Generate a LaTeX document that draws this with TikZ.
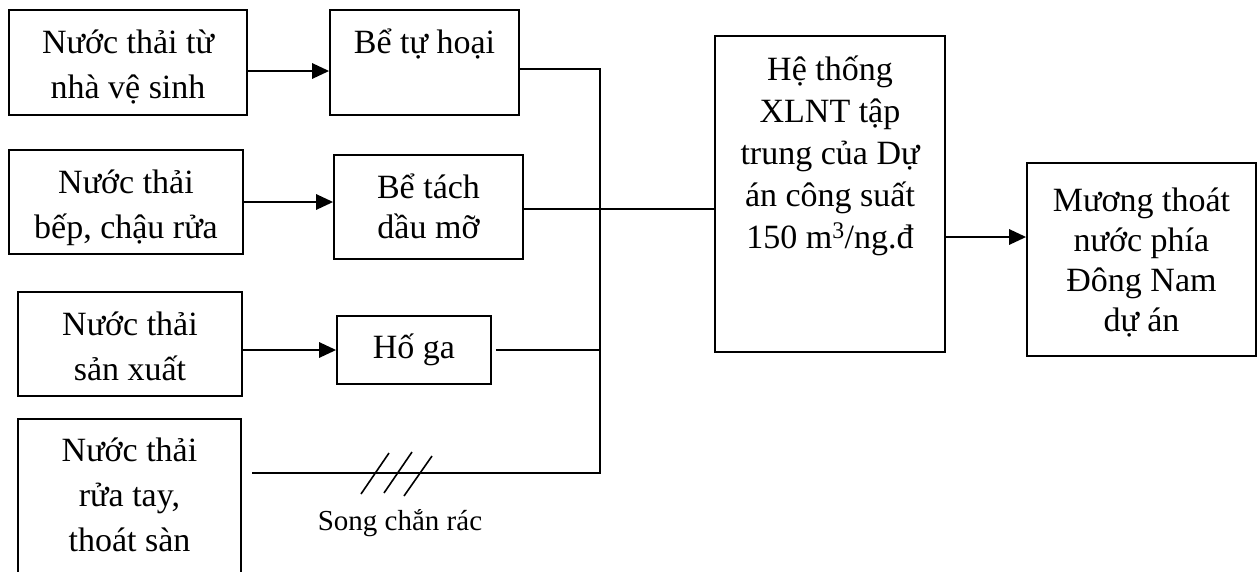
\documentclass[tikz,border=0pt]{standalone}
\usepackage{fontspec}
\setmainfont{Liberation Serif}
\usetikzlibrary{arrows.meta}
\newcommand\mlines[2]{\vtop{\baselineskip=#1\lineskiplimit=-1000pt\lineskip=0pt\halign{\hfil##\hfil\cr#2\crcr}}}
\tikzset{
  box/.style={draw, line width=1.6pt, inner sep=0pt, rectangle},
  txt/.style={font=\fontsize{34}{45}\selectfont, inner sep=0pt, anchor=base},
  lbl/.style={font=\fontsize{29}{34}\selectfont, inner sep=0pt, anchor=base},
  conn/.style={line width=1.6pt},
  arr/.style={line width=2.8pt, -{Triangle[length=17pt,width=15pt]}},
  hatch/.style={line width=1.6pt}
}
\begin{document}
\begin{tikzpicture}[x=1pt, y=-1pt]
\clip (0,0) rectangle (1258,571);
% boxes
\node[box, minimum width=238pt, minimum height=105pt] (A) at (128,62.5) {};
\node[txt] (At) at (128,53) {\mlines{45pt}{Nước thải từ\cr nhà vệ sinh}};
\node[box, minimum width=189pt, minimum height=105pt] (B) at (424.5,62.5) {};
\node[txt] (Bt) at (424.5,53) {Bể tự hoại};
\node[box, minimum width=234pt, minimum height=104pt] (C) at (126,202) {};
\node[txt] (Ct) at (126,193) {\mlines{45pt}{Nước thải\cr bếp, chậu rửa}};
\node[box, minimum width=189pt, minimum height=104pt] (D) at (428.5,207) {};
\node[txt] (Dt) at (428.5,198) {\mlines{40pt}{Bể tách\cr dầu mỡ}};
\node[box, minimum width=224pt, minimum height=104pt] (E) at (130,344) {};
\node[txt] (Et) at (130,335) {\mlines{45pt}{Nước thải\cr sản xuất}};
\node[box, minimum width=154pt, minimum height=68pt] (F) at (414,350) {};
\node[txt] (Ft) at (414,358) {Hố ga};
\node[box, minimum width=223pt, minimum height=171pt] (G) at (129.5,504.5) {};
\node[txt] (Gt) at (129.5,461) {\mlines{45pt}{Nước thải\cr rửa tay,\cr thoát sàn}};
\node[box, minimum width=230pt, minimum height=316pt] (X) at (830,194) {};
\node[txt] (Xt) at (830,80) {\mlines{42pt}{Hệ thống\cr XLNT tập\cr trung của Dự\cr án công suất\cr 150 m\textsuperscript{3}/ng.đ}};
\node[box, minimum width=229pt, minimum height=193pt] (M) at (1141.5,259.5) {};
\node[txt] (Mt) at (1141.5,211) {\mlines{40pt}{Mương thoát\cr nước phía\cr Đông Nam\cr dự án}};
\node[lbl] (S) at (400,530) {Song chắn rác};
% helper coordinates
\coordinate (J1) at (600,69);
\coordinate (J4) at (600,473);
\coordinate (yAB) at (0,71);
\coordinate (yD) at (0,209);
\coordinate (yXM) at (0,237);
% arrows
\draw[arr] (A.east |- yAB) -- (B.west |- yAB);
\draw[arr] (C.east) -- (D.west |- C.east);
\draw[arr] (E.east |- F.west) -- (F.west);
\draw[arr] (X.east |- yXM) -- (M.west |- yXM);
% collector lines
\draw[conn, shorten >=10pt] (B.east |- J1) -- (J1) -- (J4) -- (G.east |- J4);
\draw[conn] (D.east |- yD) -- (X.west |- yD);
\draw[conn, shorten <=4pt] (F.east) -- (F.east -| J1);
% screen hatches
\draw[hatch] (361,494) -- (389,453);
\draw[hatch] (384,493) -- (412,452);
\draw[hatch] (404,496) -- (432,456);
\end{tikzpicture}
\end{document}
